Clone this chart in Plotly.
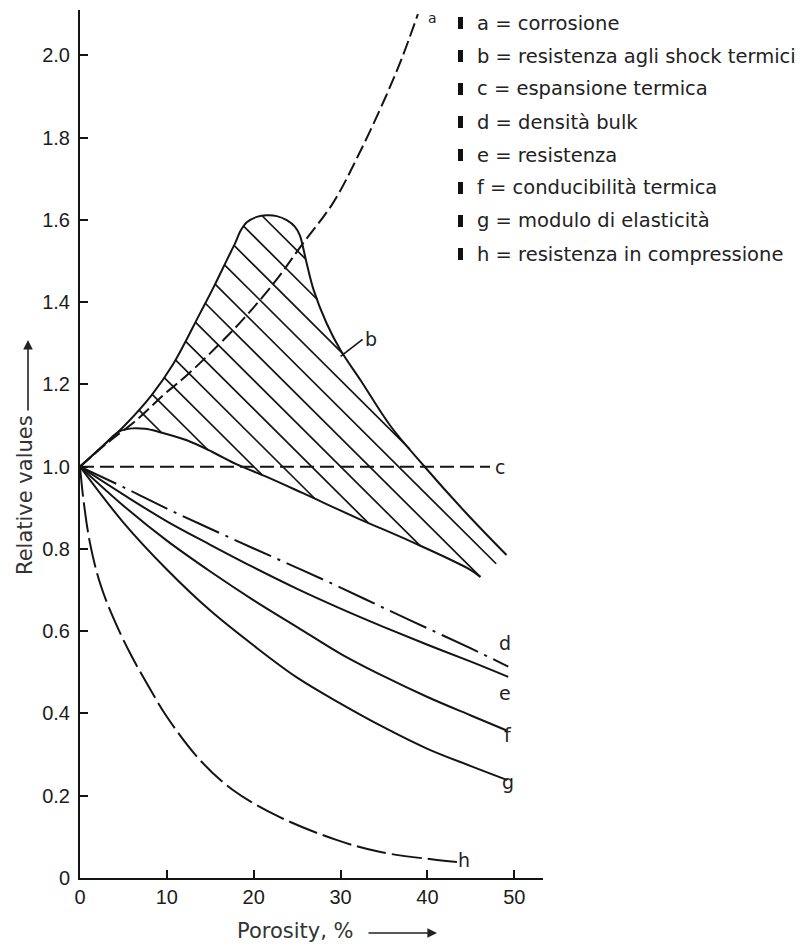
import numpy as np
import plotly.graph_objects as go

# ---------------- data ----------------
a_x = [0, 3, 6.5, 9.6, 12.3, 16.1, 19.2, 22.65, 25.5, 29.1, 32, 35, 37, 38.9]
a_y = [1.0, 1.055, 1.113, 1.174, 1.222, 1.299, 1.368, 1.455, 1.538, 1.64, 1.755, 1.89, 1.99, 2.10]

b_x = [0, 2.5, 5, 8.25, 10.75, 13.8, 15.4, 16.9, 17.9, 18.45, 19.2, 20.35, 21.5, 22.65, 23.8,
       24.75, 25.3, 25.6, 26.1, 26.9, 28.4, 30.0, 32.3, 35.7, 39.5, 44.5, 49.1]
b_y = [1.0, 1.048, 1.097, 1.174, 1.25, 1.372, 1.437, 1.502, 1.545, 1.572, 1.594, 1.607, 1.611,
       1.609, 1.599, 1.583, 1.563, 1.54, 1.494, 1.429, 1.348, 1.283, 1.21, 1.10, 1.004, 0.886,
       0.785]

b_low_x = [0, 2.5, 4.5, 6, 7.5, 9, 12.3, 15.3, 18, 21.5, 25.6, 31.9, 38.2, 44.6, 46.1]
b_low_y = [1.0, 1.048, 1.085, 1.093, 1.092, 1.085, 1.064, 1.035, 1.006, 0.975, 0.936, 0.875,
           0.817, 0.753, 0.732]

c_x = [0, 47.2]
c_y = [1.0, 1.0]

d_x = [0, 5, 10, 15, 20, 25, 30, 35, 40, 45, 49.3]
d_y = [1.0, 0.95, 0.898, 0.849, 0.801, 0.754, 0.706, 0.656, 0.607, 0.558, 0.514]

e_x = [0, 5, 10, 15, 20, 25, 30, 35, 40, 45, 49.3]
e_y = [1.0, 0.932, 0.867, 0.81, 0.755, 0.703, 0.655, 0.61, 0.567, 0.526, 0.489]

f_x = [0, 5, 10, 15, 20, 25, 30, 35, 40, 45, 49.2]
f_y = [1.0, 0.905, 0.82, 0.745, 0.675, 0.61, 0.545, 0.49, 0.44, 0.395, 0.358]

g_x = [0, 5, 10, 15, 20, 25, 30, 35, 40, 45, 49.2]
g_y = [1.0, 0.864, 0.75, 0.65, 0.565, 0.487, 0.424, 0.366, 0.314, 0.272, 0.238]

h_x = [0, 0.4, 1.15, 2.3, 3.8, 5.8, 7.7, 10, 13.8, 17.6, 23, 29.6, 34.6, 41.1, 43.4]
h_y = [1.0, 0.919, 0.814, 0.717, 0.634, 0.545, 0.473, 0.392, 0.287, 0.214, 0.148, 0.092,
       0.063, 0.044, 0.039]

x_ticks = [0, 10, 20, 30, 40, 50]
y_ticks = [0, 0.2, 0.4, 0.6, 0.8, 1.0, 1.2, 1.4, 1.6, 1.8, 2.0]
y_ticktext = ["0", "0.2", "0.4", "0.6", "0.8", "1.0", "1.2", "1.4", "1.6", "1.8", "2.0"]

legend_labels = [
    "a = corrosione",
    "b = resistenza agli shock termici",
    "c = espansione termica",
    "d = densità bulk",
    "e = resistenza",
    "f = conducibilità termica",
    "g = modulo di elasticità",
    "h = resistenza in compressione",
]

# ---------------- style ----------------
INK = "#141414"
LW = 2
TICK_FONT = dict(family="Liberation Sans, Arial, sans-serif", size=20, color="#1c1c1c")
LBL_FONT = dict(family="DejaVu Sans, sans-serif", size=19, color="#222")
TITLE_FONT = dict(family="DejaVu Sans, sans-serif", size=21, color="#333")
LEG_FONT = dict(family="DejaVu Sans, sans-serif", size=19.5, color="#222")

HATCH_SLOPE = 0.021    # hatch lines: y = c - slope * x
HATCH_C = 1.70 + 0.07 * np.arange(-6, 7)

# plot area (page pixels): x 80..543, y 10..878 ; page has an 8px body margin
PL, PR, PT, PB = 80, 543, 10, 878


def xp(px):
    return (px - PL) / (PR - PL)


def yp(py):
    return (PB - py) / (PB - PT)


fig = go.Figure()


def curve(x, y, dash="solid", shape="spline", smoothing=1.0):
    fig.add_trace(go.Scatter(x=x, y=y, mode="lines", hoverinfo="skip",
                             line=dict(color=INK, width=LW, dash=dash, shape=shape,
                                       smoothing=smoothing)))


# ---- hatching inside the b region ----
px = np.array(b_x + b_low_x[::-1], dtype=float)
py = np.array(b_y + b_low_y[::-1], dtype=float)
qx = np.roll(px, -1)
qy = np.roll(py, -1)
hx, hy = [], []
for c0 in HATCH_C:
    f1 = py + HATCH_SLOPE * px - c0
    f2 = qy + HATCH_SLOPE * qx - c0
    idx = np.where(f1 * f2 < 0)[0]
    if len(idx) < 2:
        continue
    t = f1[idx] / (f1[idx] - f2[idx])
    ix = px[idx] + t * (qx[idx] - px[idx])
    iy = py[idx] + t * (qy[idx] - py[idx])
    order = np.argsort(ix)
    ix, iy = ix[order], iy[order]
    for k in range(0, len(ix) - 1, 2):
        hx += [ix[k], ix[k + 1], None]
        hy += [iy[k], iy[k + 1], None]
fig.add_trace(go.Scatter(x=hx, y=hy, mode="lines", hoverinfo="skip",
                         line=dict(color=INK, width=1.7)))

curve(b_x, b_y)
curve(b_low_x, b_low_y)
curve(a_x, a_y, dash="14px,5px")
curve(c_x, c_y, dash="14px,6px", shape="linear")
curve(d_x, d_y, dash="40px,7px,3px,7px")
curve(e_x, e_y)
curve(f_x, f_y)
curve(g_x, g_y)
curve(h_x, h_y, dash="30px,6px")

# ---- curve labels ----
curve_labels = [("a", 40.6, 2.09, 14), ("c", 48.4, 1.0, 19), ("d", 48.9, 0.571, 19),
                ("e", 48.9, 0.45, 19), ("f", 49.3, 0.347, 19), ("g", 49.3, 0.233, 19),
                ("h", 44.2, 0.044, 19)]
for txt, lx, ly, sz in curve_labels:
    fig.add_annotation(x=lx, y=ly, text=txt, showarrow=False,
                       font=dict(family=LBL_FONT["family"], size=sz, color="#222"))
fig.add_annotation(x=30.0, y=1.268, text="b", showarrow=True, arrowhead=0, arrowwidth=1.6,
                   arrowcolor=INK, ax=22, ay=-17, xanchor="left", yanchor="middle",
                   font=LBL_FONT)

# ---- legend (text block at top right) ----
for i, lab in enumerate(legend_labels):
    ypx = 23 + 33 * i
    fig.add_shape(type="rect", xref="paper", yref="paper",
                  x0=xp(458), x1=xp(463), y0=yp(ypx + 6), y1=yp(ypx - 6),
                  fillcolor="#111", line=dict(width=0))
    fig.add_annotation(xref="paper", yref="paper", x=xp(475), y=yp(ypx), text=lab,
                       showarrow=False, xanchor="left", yanchor="middle", font=LEG_FONT)

# ---- axis titles with arrows ----
fig.add_annotation(xref="paper", yref="paper", x=xp(295), y=yp(931),
                   text="Porosity, %", showarrow=False, font=TITLE_FONT,
                   xanchor="center", yanchor="middle")
fig.add_annotation(xref="paper", yref="paper", x=xp(437), y=yp(933),
                   text="", showarrow=True, arrowhead=2, arrowsize=1.2, arrowwidth=1.6,
                   arrowcolor="#222", ax=-70, ay=0)
fig.add_annotation(xref="paper", yref="paper", x=xp(25), y=yp(495),
                   text="Relative values", textangle=-90, showarrow=False, font=TITLE_FONT,
                   xanchor="center", yanchor="middle")
fig.add_annotation(xref="paper", yref="paper", x=xp(28), y=yp(340),
                   text="", showarrow=True, arrowhead=2, arrowsize=1.2, arrowwidth=1.6,
                   arrowcolor="#222", ax=0, ay=72)

axis_common = dict(showline=True, linecolor=INK, linewidth=2, ticks="inside", ticklen=8,
                   tickwidth=2, tickcolor=INK, showgrid=False, zeroline=False,
                   tickfont=TICK_FONT, fixedrange=True)
fig.update_xaxes(range=[0, 53.3], tickvals=x_ticks, **axis_common)
fig.update_yaxes(range=[0, 2.11], tickvals=y_ticks, ticktext=y_ticktext,
                 ticklabelstandoff=4, **axis_common)

# figure is 8px smaller each way because the page body has an 8px margin
fig.update_layout(width=802, height=938,
                  margin=dict(l=PL - 8, r=802 - (PR - 8), t=PT - 8, b=938 - (PB - 8)),
                  plot_bgcolor="white", paper_bgcolor="white", showlegend=False)

fig.write_html("out.html")
